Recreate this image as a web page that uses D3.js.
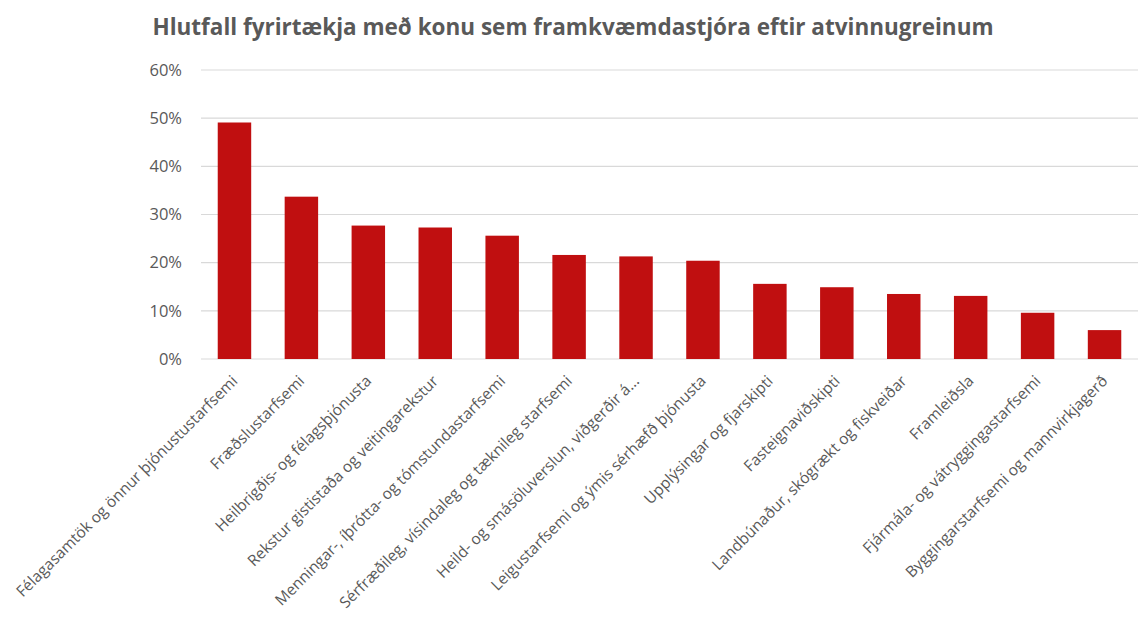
<!DOCTYPE html>
<html>
<head>
<meta charset="utf-8">
<script src="https://cdn.jsdelivr.net/npm/d3@7"></script>
<style>
  body { margin: 0; background: #fff; }
  svg { display: block; }
  svg text { font-family: "Open Sans", sans-serif; }
  .title { font-weight: bold; fill: #595959; }
  .axis text { fill: #595959; }
</style>
</head>
<body>
<div id="chart"></div>
<script>
// data
const categories = [
  "Félagasamtök og önnur þjónustustarfsemi",
  "Fræðslustarfsemi",
  "Heilbrigðis- og félagsþjónusta",
  "Rekstur gististaða og veitingarekstur",
  "Menningar-, íþrótta- og tómstundastarfsemi",
  "Sérfræðileg, vísindaleg og tæknileg starfsemi",
  "Heild- og smásöluverslun, viðgerðir á...",
  "Leigustarfsemi og ýmis sérhæfð þjónusta",
  "Upplýsingar og fjarskipti",
  "Fasteignaviðskipti",
  "Landbúnaður, skógrækt og fiskveiðar",
  "Framleiðsla",
  "Fjármála- og vátryggingastarfsemi",
  "Byggingarstarfsemi og mannvirkjagerð"
];
const values = [0.491, 0.337, 0.277, 0.273, 0.256, 0.216, 0.213, 0.204, 0.156, 0.149, 0.135, 0.131, 0.096, 0.060];
const yTicks = [0, 0.1, 0.2, 0.3, 0.4, 0.5, 0.6];
const title = "Hlutfall fyrirtækja með konu sem framkvæmdastjóra eftir atvinnugreinum";

const W = 1139, H = 618;
const margin = {top: 70, right: 1, bottom: 259, left: 201};

const svg = d3.select("#chart").append("svg")
    .attr("width", W)
    .attr("height", H);

const x = d3.scaleBand()
    .domain(categories)
    .range([margin.left, W - margin.right])
    .paddingInner(0.5)
    .paddingOuter(0.25);

const y = d3.scaleLinear()
    .domain([0, 0.6])
    .range([H - margin.bottom, margin.top]);

// gridlines
svg.append("g")
    .selectAll("line")
    .data(yTicks)
    .enter().append("line")
    .attr("x1", margin.left)
    .attr("x2", W - margin.right)
    .attr("y1", d => y(d))
    .attr("y2", d => y(d))
    .attr("stroke", "#d9d9d9")
    .attr("stroke-width", 1.2);

// y axis labels
const yAxis = d3.axisLeft(y)
    .tickValues(yTicks)
    .tickFormat(d3.format(".0%"))
    .tickSize(0)
    .tickPadding(19);

svg.append("g")
    .attr("class", "axis y-axis")
    .attr("transform", `translate(${margin.left},0)`)
    .call(yAxis)
    .call(g => g.select(".domain").remove())
    .selectAll("text")
    .style("font-size", "16.5px");

// bars
svg.append("g")
    .selectAll("rect")
    .data(values)
    .enter().append("rect")
    .attr("x", (d, i) => x(categories[i]))
    .attr("width", x.bandwidth())
    .attr("y", d => y(d))
    .attr("height", d => y(0) - y(d))
    .attr("fill", "#c00f10");

// x axis labels, rotated
const xAxis = d3.axisBottom(x)
    .tickSize(0)
    .tickPadding(0);

svg.append("g")
    .attr("class", "axis x-axis")
    .attr("transform", `translate(0,${y(0)})`)
    .call(xAxis)
    .call(g => g.select(".domain").remove())
    .selectAll("text")
    .style("font-size", "15.5px")
    .attr("text-anchor", "end")
    .attr("dy", null)
    .attr("y", 0)
    .attr("transform", "translate(4,23) rotate(-45)");

// title
svg.append("text")
    .attr("class", "title")
    .attr("x", 573)
    .attr("y", 35)
    .attr("text-anchor", "middle")
    .style("font-size", "22.5px")
    .text(title);
</script>
</body>
</html>
